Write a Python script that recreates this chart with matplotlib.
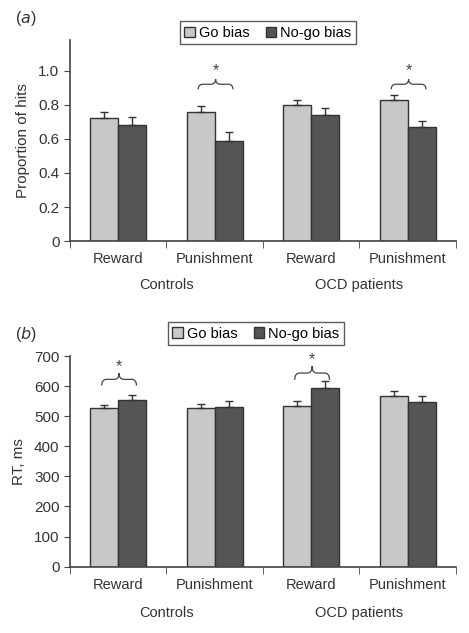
import matplotlib.pyplot as plt
from matplotlib.patches import Patch, PathPatch
from matplotlib.path import Path
import numpy as np

plt.rcParams['font.family'] = ['Liberation Sans', 'DejaVu Sans']

# -------------------------------
# Data
# -------------------------------
conditions = ["Reward", "Punishment", "Reward", "Punishment"]
groups = ["Controls", "OCD patients"]

hits_go = [0.72, 0.76, 0.80, 0.83]
hits_go_err = [0.035, 0.033, 0.027, 0.026]
hits_nogo = [0.68, 0.59, 0.74, 0.67]
hits_nogo_err = [0.046, 0.049, 0.038, 0.037]

rt_go = [527, 527, 535, 568]
rt_go_err = [11, 16, 17, 16]
rt_nogo = [554, 533, 596, 549]
rt_nogo_err = [17, 19, 22, 19]

# significant pairs: (category index, brace bottom, brace tip, star y)
hits_sig = [(1, 0.89, 0.95, 1.0), (3, 0.89, 0.95, 1.0)]
rt_sig = [(0, 603, 644, 667), (2, 622, 667, 689)]

go_color = "#c8c8c8"
nogo_color = "#555555"
edge = "#333333"
w = 0.29


def brace(ax, xc, y0, y2):
    # curly brace over a pair of bars, opening downward
    x0, x1 = xc - 0.17, xc + 0.19
    xm = (x0 + x1) / 2
    y1 = y0 + (y2 - y0) * 0.5
    r = 0.05
    verts = [(x0, y0), (x0, y1), (x0 + r, y1),
             (xm - r, y1), (xm, y1), (xm, y2),
             (xm, y1), (xm + r, y1),
             (x1 - r, y1), (x1, y1), (x1, y0)]
    codes = [Path.MOVETO, Path.CURVE3, Path.CURVE3,
             Path.LINETO, Path.CURVE3, Path.CURVE3,
             Path.CURVE3, Path.CURVE3,
             Path.LINETO, Path.CURVE3, Path.CURVE3]
    ax.add_patch(PathPatch(Path(verts, codes), fill=False, lw=0.9, color="#444444"))


def draw_panel(ax, go, go_err, nogo, nogo_err, sig, ylabel, yticks, ylim, leg_xy):
    x = np.arange(len(conditions))
    ax.bar(x - w / 2, go, w, color=go_color, edgecolor=edge, linewidth=1,
           yerr=[np.zeros(4), go_err], error_kw=dict(ecolor=edge, elinewidth=1, capsize=3, capthick=1),
           zorder=2)
    ax.bar(x + w / 2, nogo, w, color=nogo_color, edgecolor=edge, linewidth=1,
           yerr=[np.zeros(4), nogo_err], error_kw=dict(ecolor=edge, elinewidth=1, capsize=3, capthick=1),
           zorder=2)

    for i, yb, yt, ys in sig:
        brace(ax, i, yb, yt)
        ax.text(i + 0.01, ys, "*", ha="center", va="center", fontsize=11.5, color="#444444")

    ax.set_xlim(-0.5, 3.5)
    ax.set_ylim(*ylim)
    ax.set_yticks(yticks)
    ax.set_xticks(x)
    ax.set_xticklabels(conditions, fontsize=10.5, color="#333333")
    ax.set_xticks(np.arange(-0.5, 4, 1), minor=True)
    ax.tick_params(axis="x", which="major", length=0, pad=8)
    ax.tick_params(axis="x", which="minor", length=5, direction="out", color="#444444")
    ax.tick_params(axis="y", length=4, labelsize=11, colors="#333333")
    ax.tick_params(axis="y", color="#444444")
    for s in ["top", "right"]:
        ax.spines[s].set_visible(False)
    for s in ["left", "bottom"]:
        ax.spines[s].set_color("#444444")
        ax.spines[s].set_linewidth(1.2)
    ax.set_ylabel(ylabel, fontsize=11, color="#333333", labelpad=6)

    ax.text(0.5, -0.22, groups[0], transform=ax.get_xaxis_transform(), ha="center", va="center",
            fontsize=10.5, color="#333333")
    ax.text(2.5, -0.22, groups[1], transform=ax.get_xaxis_transform(), ha="center", va="center",
            fontsize=10.5, color="#333333")

    handles = [Patch(facecolor=go_color, edgecolor=edge, label="Go bias"),
               Patch(facecolor=nogo_color, edgecolor=edge, label="No-go bias")]
    leg = ax.legend(handles=handles, loc="center", bbox_to_anchor=leg_xy, ncol=2, frameon=True,
                    fancybox=False, fontsize=10.5, handlelength=0.7, handleheight=0.7,
                    handletextpad=0.3, columnspacing=1.1, borderpad=0.3)
    leg.get_frame().set_edgecolor("#333333")
    leg.get_frame().set_linewidth(1)


fig = plt.figure(figsize=(4.69, 6.33), dpi=100)
ax1 = fig.add_axes([0.149, 0.619, 0.823, 0.318])
ax2 = fig.add_axes([0.149, 0.105, 0.823, 0.332])

draw_panel(ax1, hits_go, hits_go_err, hits_nogo, hits_nogo_err, hits_sig, "Proportion of hits",
           [0, 0.2, 0.4, 0.6, 0.8, 1.0], (0, 1.18), (0.513, 1.035))
ax1.set_yticklabels(["0", "0.2", "0.4", "0.6", "0.8", "1.0"])

draw_panel(ax2, rt_go, rt_go_err, rt_nogo, rt_nogo_err, rt_sig, "RT, ms",
           list(range(0, 701, 100)), (0, 700), (0.482, 1.108))

# panel labels
fig.text(15 / 469, 1 - 18 / 633, "($a$)", fontsize=11.5, ha="left", va="center", color="#333333")
fig.text(15 / 469, 1 - 335 / 633, "($b$)", fontsize=11.5, ha="left", va="center", color="#333333")

fig.savefig("out.png", dpi=100)
